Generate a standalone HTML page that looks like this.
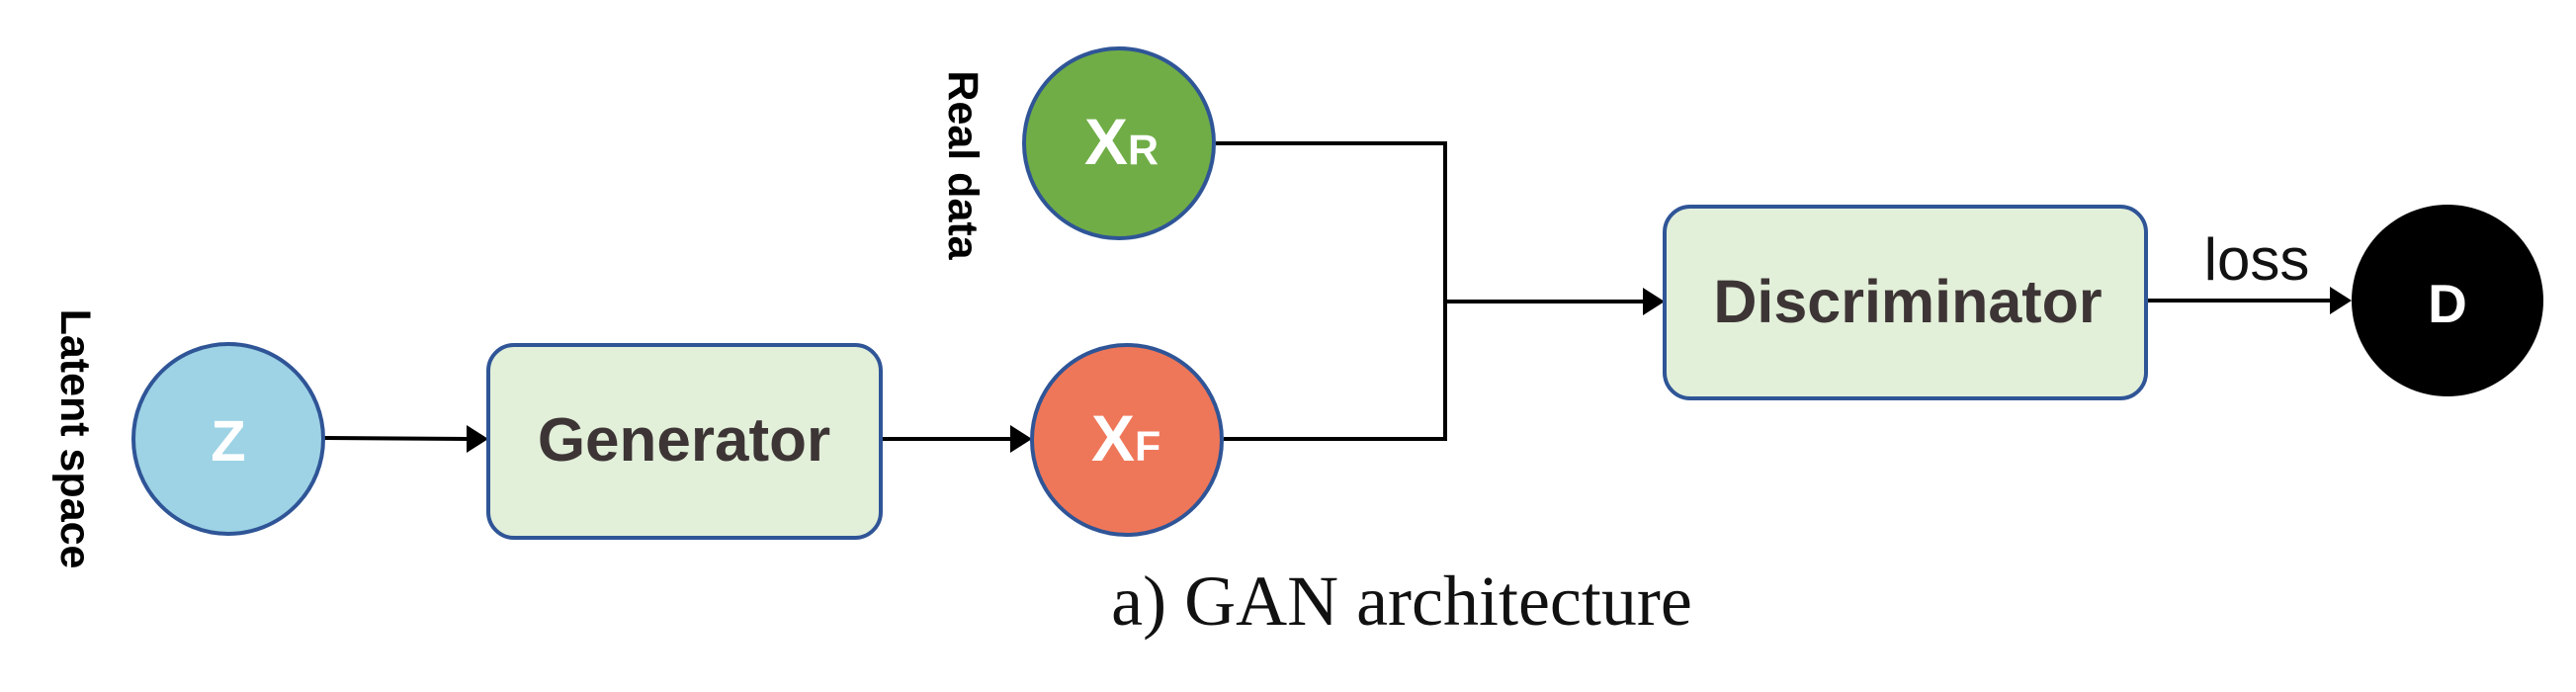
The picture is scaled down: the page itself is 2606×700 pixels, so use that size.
<!DOCTYPE html>
<html><head><meta charset="utf-8"><style>
html,body{margin:0;padding:0;background:#fff;}
svg{display:block;}
</style></head><body>
<svg width="2606" height="700" viewBox="0 0 2606 700" xmlns="http://www.w3.org/2000/svg">
<defs>
<marker id="ah" markerWidth="10" markerHeight="10" refX="9" refY="5" orient="auto" markerUnits="userSpaceOnUse" viewBox="0 0 10 10">
</marker>
</defs>
<g stroke="#000" stroke-width="4" fill="none">
<line x1="328" y1="443" x2="475" y2="444"/>
<line x1="892" y1="444" x2="1025" y2="444"/>
<polyline points="1230,145 1462,145 1462,444 1238,444"/>
<line x1="1462" y1="305" x2="1665" y2="305"/>
<line x1="2172" y1="304" x2="2360" y2="304"/>
</g>
<g fill="#000">
<polygon points="472,430 494,444 472,458"/>
<polygon points="1022,430 1044,444 1022,458"/>
<polygon points="1662,291 1684,305 1662,319"/>
<polygon points="2357,290 2379,304 2357,318"/>
</g>
<circle cx="231" cy="444" r="96" fill="#9dd3e5" stroke="#2f5597" stroke-width="4"/>
<circle cx="1140" cy="445" r="96" fill="#ef7759" stroke="#2f5597" stroke-width="4"/>
<circle cx="1132" cy="145" r="96" fill="#70ad47" stroke="#2f5597" stroke-width="4"/>
<circle cx="2476" cy="304" r="97" fill="#000"/>
<rect x="494" y="349" width="397" height="195" rx="26" fill="#e2efd9" stroke="#2f5597" stroke-width="4"/>
<rect x="1684" y="209" width="487" height="194" rx="26" fill="#e2efd9" stroke="#2f5597" stroke-width="4"/>
<g font-family="Liberation Sans, sans-serif" font-weight="bold">
<text x="692" y="466" font-size="62" fill="#3d3535" text-anchor="middle">Generator</text>
<text x="1930" y="326" font-size="61" fill="#3d3535" text-anchor="middle">Discriminator</text>
<text x="231" y="466" font-size="58" fill="#fff" text-anchor="middle">Z</text>
<text x="2476" y="326" font-size="55" fill="#fff" text-anchor="middle">D</text>
<text x="1097" y="166" font-size="66" fill="#fff">X<tspan font-size="43">R</tspan></text>
<text x="1104" y="466" font-size="66" fill="#fff">X<tspan font-size="43">F</tspan></text>
<text transform="translate(960,167) rotate(90)" font-size="43" fill="#000" text-anchor="middle">Real data</text>
<text transform="translate(62,444) rotate(90)" font-size="43" fill="#000" text-anchor="middle">Latent space</text>
</g>
<text x="2283" y="283" font-family="Liberation Sans, sans-serif" font-size="60" fill="#111" text-anchor="middle">loss</text>
<text x="1418" y="632" font-family="Liberation Serif, serif" font-size="72" fill="#111" text-anchor="middle">a) GAN architecture</text>
</svg>
</body></html>
